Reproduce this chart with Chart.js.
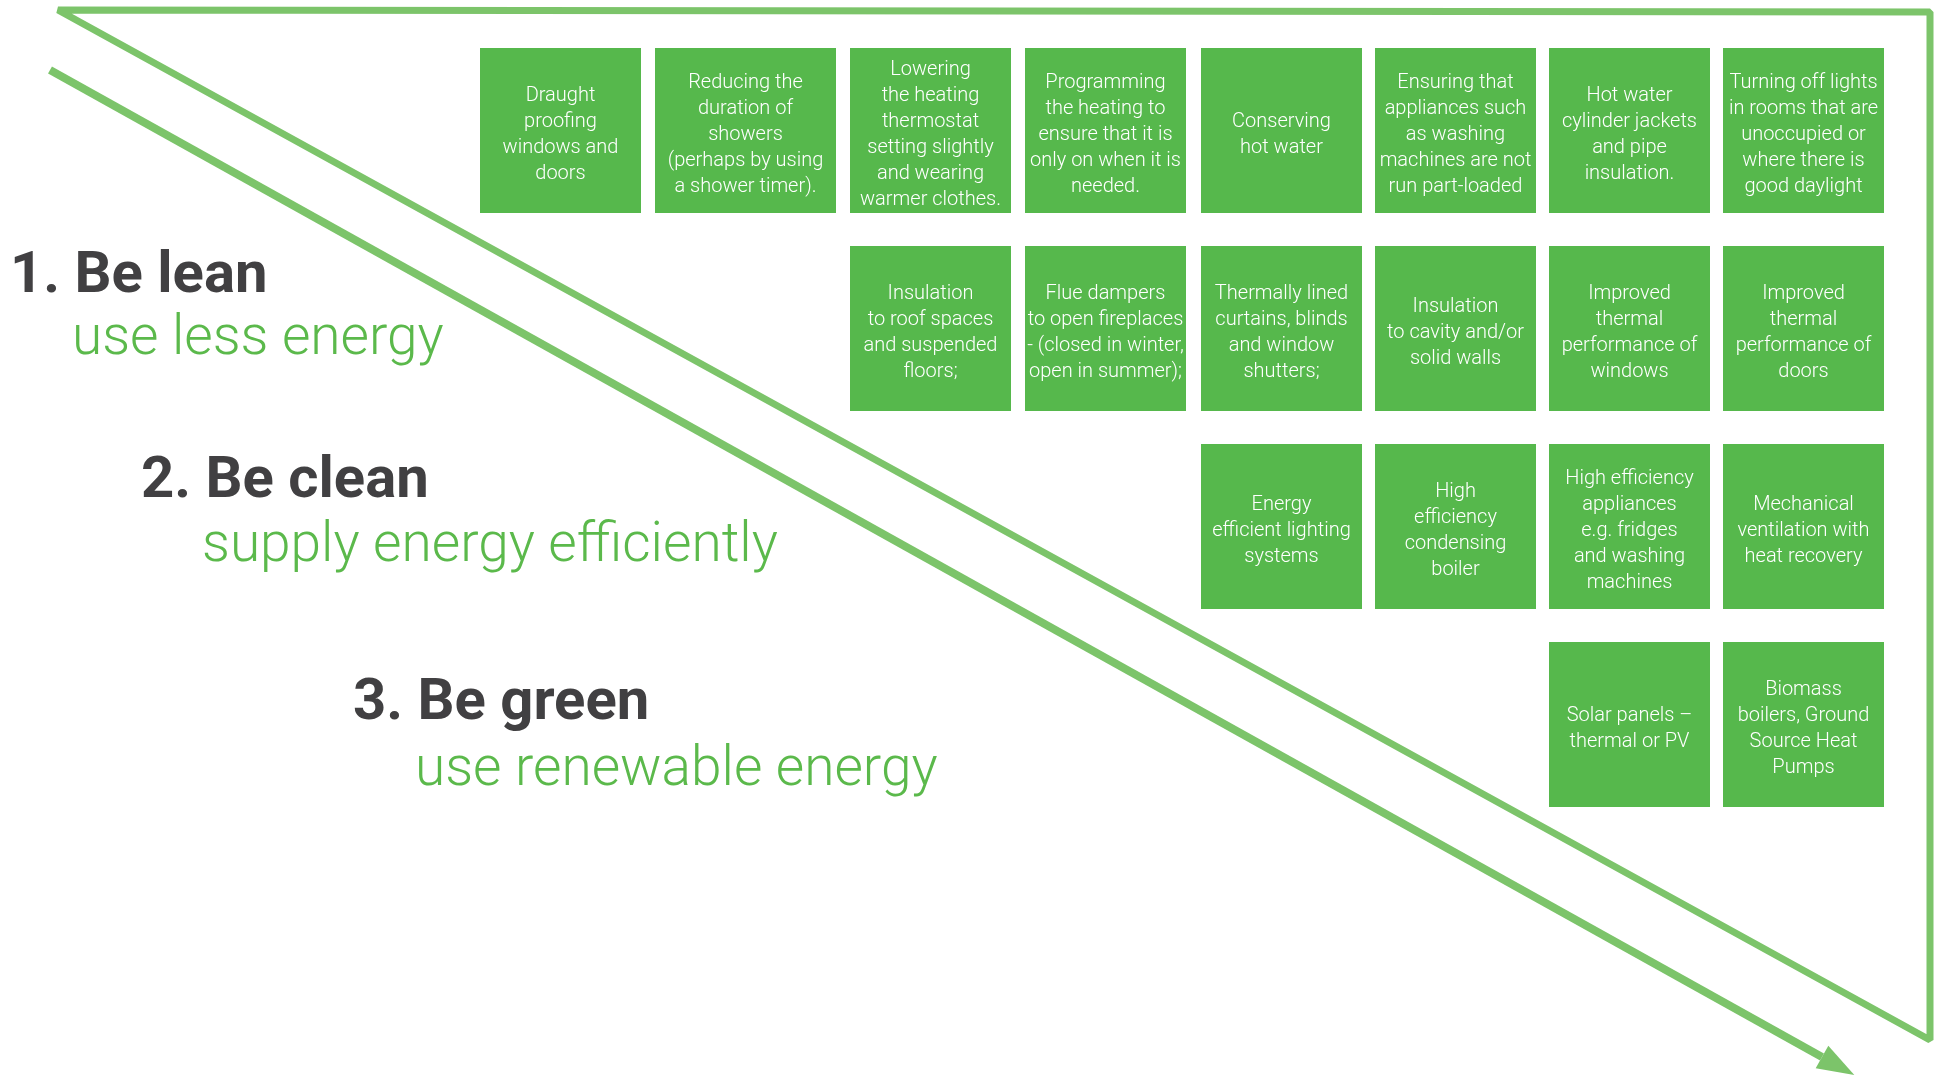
<!DOCTYPE html>
<html>
<head>
<meta charset="utf-8">
<script src="https://cdn.jsdelivr.net/npm/chart.js@4.4.0/dist/chart.umd.min.js"></script>
<style>
  html, body { margin: 0; padding: 0; background: #fff; }
  canvas { display: block; }
</style>
</head>
<body>
<canvas id="chart" width="1935" height="1080"></canvas>
<script>
// energy hierarchy tiers
const tierNumbers = ['1.', '2.', '3.'];
const tierTitles = ['Be lean', 'Be clean', 'Be green'];
const tierSubtitles = ['use less energy', 'supply energy efficiently', 'use renewable energy'];

// measures (one cell each), with grid row / column
const measureLabels = [
  'Draught\nproofing\nwindows and\ndoors',
  'Reducing the\nduration of\nshowers\n(perhaps by using\na shower timer).',
  'Lowering\nthe heating\nthermostat\nsetting slightly\nand wearing\nwarmer clothes.',
  'Programming\nthe heating to\nensure that it is\nonly on when it is\nneeded.',
  'Conserving\nhot water',
  'Ensuring that\nappliances such\nas washing\nmachines are not\nrun part-loaded',
  'Hot water\ncylinder jackets\nand pipe\ninsulation.',
  'Turning off lights\nin rooms that are\nunoccupied or\nwhere there is\ngood daylight',
  'Insulation\nto roof spaces\nand suspended\nfloors;',
  'Flue dampers\nto open fireplaces\n- (closed in winter,\nopen in summer);',
  'Thermally lined\ncurtains, blinds\nand window\nshutters;',
  'Insulation\nto cavity and/or\nsolid walls',
  'Improved\nthermal\nperformance of\nwindows',
  'Improved\nthermal\nperformance of\ndoors',
  'Energy\nefficient lighting\nsystems',
  'High\nefficiency\ncondensing\nboiler',
  'High efficiency\nappliances\ne.g. fridges\nand washing\nmachines',
  'Mechanical\nventilation with\nheat recovery',
  'Solar panels –\nthermal or PV',
  'Biomass\nboilers, Ground\nSource Heat\nPumps'
];
const measureRow = [0, 0, 0, 0, 0, 0, 0, 0, 1, 1, 1, 1, 1, 1, 2, 2, 2, 2, 3, 3];
const measureCol = [0, 1, 2, 3, 4, 5, 6, 7, 2, 3, 4, 5, 6, 7, 4, 5, 6, 7, 6, 7];

// layout (page units, 1935 x 1080)
const colLeft = [480, 655, 850, 1025, 1201, 1375, 1549, 1723];
const colWidth = [161, 181, 161, 161, 161, 161, 161, 161];
const rowTop = [48, 246, 444, 642];
const rowHeight = 165;
const titlePos = [[10, 292], [141, 497], [353, 719]];
const subtitlePos = [[72, 354], [202, 561], [415, 785]];
const framePath = [{x: 1000, y: 11}, {x: 1930, y: 12}, {x: 1930, y: 1040}, {x: 58, y: 10}, {x: 1000, y: 11}];
const arrowPath = [{x: 50, y: 70}, {x: 1822, y: 1057}];

const boxGreen = '#56b84c';
const lineGreen = '#7cc46a';
const textGreen = '#5bb94b';
const darkGrey = '#414042';

const diagram = {
  id: 'diagram',
  beforeDatasetsDraw(chart) {
    const { ctx, scales: { x, y } } = chart;
    ctx.save();
    // cells
    measureLabels.forEach((label, i) => {
      const c = measureCol[i], r = measureRow[i];
      const x0 = x.getPixelForValue(colLeft[c]);
      const x1 = x.getPixelForValue(colLeft[c] + colWidth[c]);
      const y0 = y.getPixelForValue(rowTop[r]);
      const y1 = y.getPixelForValue(rowTop[r] + rowHeight);
      ctx.fillStyle = boxGreen;
      ctx.fillRect(x0, y0, x1 - x0, y1 - y0);

      const lines = label.split('\n');
      const lh = 26;
      const cx = (x0 + x1) / 2;
      const cy = (y0 + y1) / 2 + 4;
      ctx.fillStyle = '#ffffff';
      ctx.font = '300 20px Roboto, "Liberation Sans", sans-serif';
      ctx.textAlign = 'center';
      ctx.textBaseline = 'middle';
      lines.forEach((ln, k) => {
        ctx.fillText(ln, cx, cy + (k - (lines.length - 1) / 2) * lh);
      });
    });

    // tier headings
    ctx.textAlign = 'left';
    ctx.textBaseline = 'alphabetic';
    tierTitles.forEach((t, i) => {
      ctx.fillStyle = darkGrey;
      ctx.font = 'bold 58px Roboto, "Liberation Sans", sans-serif';
      ctx.fillText(tierNumbers[i] + ' ' + t, x.getPixelForValue(titlePos[i][0]), y.getPixelForValue(titlePos[i][1]));
      ctx.fillStyle = textGreen;
      ctx.font = '300 55px Roboto, "Liberation Sans", sans-serif';
      ctx.fillText(tierSubtitles[i], x.getPixelForValue(subtitlePos[i][0]), y.getPixelForValue(subtitlePos[i][1]));
    });
    ctx.restore();
  },
  afterDatasetsDraw(chart) {
    // arrow head at the end of the arrow line
    const { ctx } = chart;
    const pts = chart.getDatasetMeta(1).data;
    const a = pts[pts.length - 2], b = pts[pts.length - 1];
    const ang = Math.atan2(b.y - a.y, b.x - a.x);
    const len = 37, half = 13;
    ctx.save();
    ctx.translate(b.x, b.y);
    ctx.rotate(ang);
    ctx.fillStyle = lineGreen;
    ctx.beginPath();
    ctx.moveTo(len, 0);
    ctx.lineTo(0, -half);
    ctx.lineTo(0, half);
    ctx.closePath();
    ctx.fill();
    ctx.restore();
  }
};

new Chart(document.getElementById('chart'), {
  type: 'scatter',
  data: {
    datasets: [
      {
        data: framePath,
        showLine: true,
        borderColor: lineGreen,
        borderWidth: 7,
        borderJoinStyle: 'bevel',
        borderCapStyle: 'butt',
        pointRadius: 0,
        tension: 0,
        fill: false
      },
      {
        data: arrowPath,
        showLine: true,
        borderColor: lineGreen,
        borderWidth: 8,
        borderCapStyle: 'butt',
        pointRadius: 0,
        tension: 0,
        fill: false
      }
    ]
  },
  options: {
    responsive: false,
    animation: false,
    events: [],
    layout: { padding: 0 },
    plugins: { legend: { display: false }, tooltip: { enabled: false } },
    scales: {
      x: { type: 'linear', min: 0, max: 1935, display: false },
      y: { type: 'linear', min: 0, max: 1080, reverse: true, display: false }
    }
  },
  plugins: [diagram]
});
</script>
</body>
</html>
